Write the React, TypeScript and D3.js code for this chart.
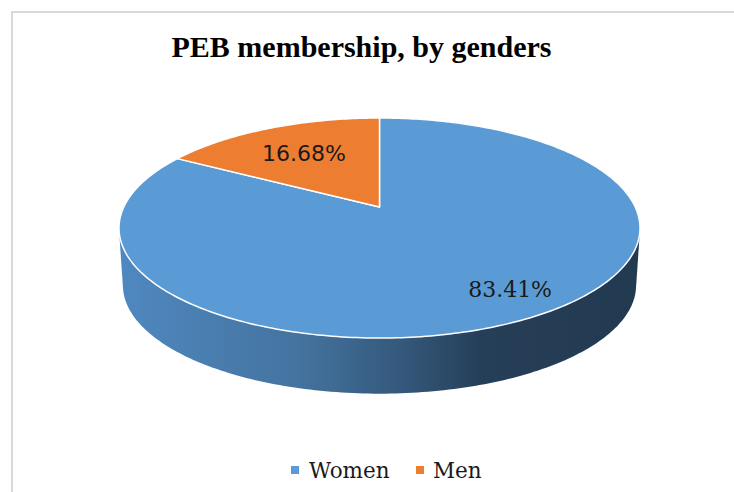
import React from "react";
import * as d3 from "d3";

const categories = ["Women", "Men"];
const values = [83.41, 16.68];
const valueLabels = ["83.41%", "16.68%"];
const colors = ["#5b9bd5", "#ed7d31"];
const title = "PEB membership, by genders";

const W = 734;
const H = 492;
// perspective projection parameters of the 3D pie
const CX = 379.5;
const CY = 207;
const R = 255.7;
const RS = 106;
const P = 0.191;
const DEPTH = 57.6;
const Q = 0.985;
const labelPlacement = [
  { r: 0.81, da: (-3.3 * Math.PI) / 180, font: "DejaVu Serif" },
  { r: 0.654, da: 0, font: "DejaVu Sans" },
];

function proj(a: number, f = 1, bottom = false): [number, number] {
  const u = Math.sin(a) * f;
  const v = Math.cos(a) * f;
  const w = 1 + P * v;
  const q = bottom ? Q : 1;
  return [CX + (q * R * u) / w, CY + (bottom ? DEPTH : 0) - (q * RS * v) / w];
}

export default function App() {
  const pie = d3.pie<number>().sort(null).value((d) => d).startAngle(0).endAngle(2 * Math.PI);
  const arcs = pie(values);
  const line = d3.line();

  const N = 360;
  const ring: [number, number][] = [];
  for (let i = 0; i < N; i++) {
    const a = (i / N) * 2 * Math.PI;
    ring.push(proj(a));
    ring.push(proj(a, 1, true));
  }
  const hull = d3.polygonHull(ring) || [];
  const hullPath = line(hull) + "Z";

  const slicePaths = arcs.map((s) => {
    const pts: [number, number][] = [[CX, CY]];
    const steps = Math.max(8, Math.ceil(((s.endAngle - s.startAngle) / (2 * Math.PI)) * 400));
    for (let i = 0; i <= steps; i++) {
      const a = s.startAngle + ((s.endAngle - s.startAngle) * i) / steps;
      pts.push(proj(a));
    }
    return line(pts) + "Z";
  });

  const xs = d3.scaleLinear().domain([119, 640]).range([0, 1]);

  return (
    <svg width={W} height={H} style={{ position: "absolute", left: 0, top: 0, background: "#fff" }}>
      <defs>
        <linearGradient id="side" x1="0" y1="0" x2="1" y2="0">
          <stop offset={xs(119)} stopColor="#4f88c0" />
          <stop offset={xs(300)} stopColor="#44739f" />
          <stop offset={xs(400)} stopColor="#34597c" />
          <stop offset={xs(480)} stopColor="#263f58" />
          <stop offset={xs(640)} stopColor="#223a50" />
        </linearGradient>
      </defs>
      <rect x={12} y={12} width={W + 20} height={H + 20} fill="#fff" stroke="#d9d9d9" strokeWidth={2} />
      <text x={361.5} y={57} textAnchor="middle" fontFamily="Liberation Serif" fontWeight="bold" fontSize={30} fill="#000">
        {title}
      </text>
      <path d={hullPath} fill="url(#side)" />
      {slicePaths.map((d, i) => (
        <path key={i} d={d} fill={colors[i]} stroke="#fff" strokeWidth={1.5} strokeLinejoin="round" />
      ))}
      {arcs.map((s, i) => {
        const mid = (s.startAngle + s.endAngle) / 2 + labelPlacement[i].da;
        const [x, y] = proj(mid, labelPlacement[i].r);
        return (
          <text key={i} x={x} y={y + 8} textAnchor="middle" fontFamily={labelPlacement[i].font} fontSize={22} fill="#1a1a1a">
            {valueLabels[i]}
          </text>
        );
      })}
      <g fontFamily="DejaVu Serif" fontSize={21.5} fill="#1a1a1a">
        <rect x={291} y={466} width={8} height={8} fill={colors[0]} />
        <text x={309} y={478}>{categories[0]}</text>
        <rect x={416} y={466} width={8} height={8} fill={colors[1]} />
        <text x={433} y={478}>{categories[1]}</text>
      </g>
    </svg>
  );
}
